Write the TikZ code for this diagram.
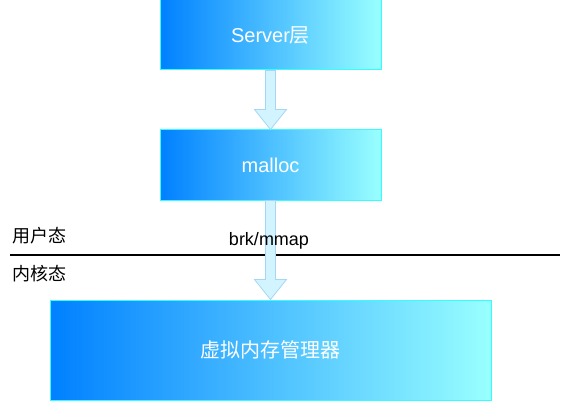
\documentclass[tikz,border=0pt]{standalone}
\usepackage{fontspec}
\setmainfont{Liberation Sans}
\newfontfamily\cjk{Noto Sans CJK SC}
\usetikzlibrary{calc}

\definecolor{boxleft}{HTML}{0080FF}
\definecolor{boxright}{HTML}{99FFFF}
\definecolor{boxedge}{HTML}{33FFFF}
\definecolor{arrfill}{HTML}{D2F4FF}
\definecolor{arredge}{HTML}{A6D6F6}

\tikzset{
  layerbox/.style={draw=boxedge, line width=1pt, left color=boxleft, right color=boxright,
    text=white, font=\fontsize{20}{22}\selectfont},
  blockarr/.style={draw=arredge, fill=arrfill, line width=0.8pt, line join=miter},
  sidelabel/.style={font=\fontsize{18}{20}\selectfont\cjk, anchor=west, inner sep=0pt}
}

% block arrow from the bottom of #1 to the top of #2
\newcommand{\blockarrow}[2]{%
  \draw[blockarr] ($(#1.south)+(-5,0)$) -- ($(#2.north)+(-5,-20)$)
    -- ($(#2.north)+(-16,-20)$) -- (#2.north) -- ($(#2.north)+(16,-20)$)
    -- ($(#2.north)+(5,-20)$) -- ($(#1.south)+(5,0)$) -- cycle;}

\begin{document}
\begin{tikzpicture}[x=1pt, y=-1pt]
\useasboundingbox (0,0) rectangle (562,401);

% ============================
% Boxes
% ============================
\node[layerbox, minimum width=221pt, minimum height=70pt] (server) at (270.5,35) {Server{\cjk 层}};
\node[layerbox, minimum width=221pt, minimum height=70pt] (malloc) at (270.5,165) {malloc};
\node[layerbox, minimum width=441pt, minimum height=100pt] (vmm) at (270.5,350) {\cjk 虚拟内存管理器};

% ============================
% User / kernel boundary
% ============================
\coordinate (Lleft) at (10,255);
\coordinate (Lright) at (560,255);
\draw[line width=1.5pt] (Lleft) -- (Lright);

\node[sidelabel] (user) at (12,236) {用户态};
\node[sidelabel] (kernel) at (12,274) {内核态};

% ============================
% Arrows
% ============================
\blockarrow{server}{malloc}
\blockarrow{malloc}{vmm}

\node[font=\fontsize{18}{20}\selectfont] (syscall) at (269,241) {brk/mmap};

\end{tikzpicture}
\end{document}
